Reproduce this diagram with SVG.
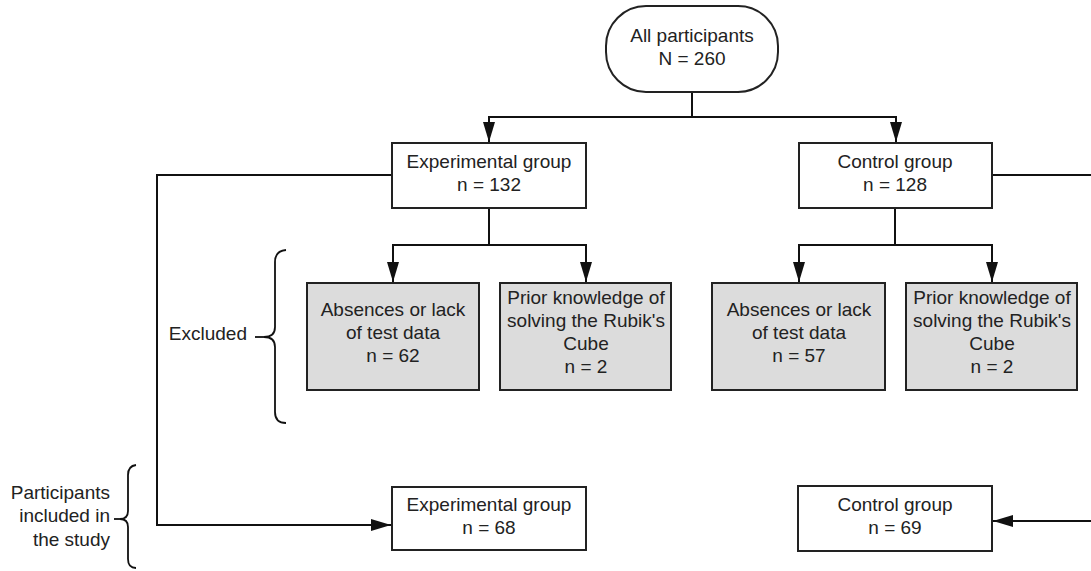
<svg xmlns="http://www.w3.org/2000/svg" width="1091" height="571" viewBox="0 0 1091 571">
  <style>
    .box { fill: #ffffff; stroke: #222222; stroke-width: 2; }
    .gray { fill: #dcdcdc; stroke: #222222; stroke-width: 2; }
    .t { font-family: "Liberation Sans", Arial, sans-serif; font-size: 19px; fill: #222222; }
    .c { text-anchor: middle; }
    .r { text-anchor: end; }
    .line { fill: none; stroke: #111111; stroke-width: 2; }
    .brace { fill: none; stroke: #111111; stroke-width: 1.8; }
  </style>
  <defs>
    <marker id="arrow" markerUnits="userSpaceOnUse" markerWidth="20" markerHeight="12" refX="20" refY="6" orient="auto">
      <path d="M0,0 L20,6 L0,12 z" fill="#111111"/>
    </marker>
  </defs>
  <rect width="1091" height="571" fill="#ffffff"/>

  <g id="connectors">
    <path class="line" d="M692,92 V117 H489 V142" marker-end="url(#arrow)"/>
    <path class="line" d="M692,117 H896 V142" marker-end="url(#arrow)"/>
    <path class="line" d="M489,208 V245 H393 V282" marker-end="url(#arrow)"/>
    <path class="line" d="M489,245 H586 V282" marker-end="url(#arrow)"/>
    <path class="line" d="M895,208 V245 H799 V282" marker-end="url(#arrow)"/>
    <path class="line" d="M895,245 H992 V282" marker-end="url(#arrow)"/>
    <path class="line" d="M392,175 H157 V525 H391" marker-end="url(#arrow)"/>
    <path class="line" d="M992,175 H1100 V521 H993" marker-end="url(#arrow)"/>
  </g>

  <g id="all">
    <rect class="box" x="606" y="6" width="172" height="86" rx="40" ry="40"/>
    <text class="t c" x="692" y="42">All participants</text>
    <text class="t c" x="692" y="65">N = 260</text>
  </g>

  <g id="exp">
    <rect class="box" x="392" y="143" width="194" height="65"/>
    <text class="t c" x="489" y="168">Experimental group</text>
    <text class="t c" x="489" y="191">n = 132</text>
  </g>

  <g id="ctrl">
    <rect class="box" x="799" y="143" width="193" height="65"/>
    <text class="t c" x="895" y="168">Control group</text>
    <text class="t c" x="895" y="191">n = 128</text>
  </g>

  <g id="exp-absent">
    <rect class="gray" x="307" y="283" width="172" height="107"/>
    <text class="t c" x="393" y="316">Absences or lack</text>
    <text class="t c" x="393" y="339">of test data</text>
    <text class="t c" x="393" y="362">n = 62</text>
  </g>

  <g id="exp-prior">
    <rect class="gray" x="500" y="283" width="171" height="107"/>
    <text class="t c" x="586" y="304">Prior knowledge of</text>
    <text class="t c" x="586" y="327">solving the Rubik's</text>
    <text class="t c" x="586" y="350">Cube</text>
    <text class="t c" x="586" y="373">n = 2</text>
  </g>

  <g id="ctrl-absent">
    <rect class="gray" x="712" y="283" width="173" height="107"/>
    <text class="t c" x="799" y="316">Absences or lack</text>
    <text class="t c" x="799" y="339">of test data</text>
    <text class="t c" x="799" y="362">n = 57</text>
  </g>

  <g id="ctrl-prior">
    <rect class="gray" x="906" y="283" width="171" height="107"/>
    <text class="t c" x="992" y="304">Prior knowledge of</text>
    <text class="t c" x="992" y="327">solving the Rubik's</text>
    <text class="t c" x="992" y="350">Cube</text>
    <text class="t c" x="992" y="373">n = 2</text>
  </g>

  <g id="exp-final">
    <rect class="box" x="392" y="487" width="194" height="63"/>
    <text class="t c" x="489" y="511">Experimental group</text>
    <text class="t c" x="489" y="534">n = 68</text>
  </g>

  <g id="ctrl-final">
    <rect class="box" x="798" y="486" width="194" height="65"/>
    <text class="t c" x="895" y="511">Control group</text>
    <text class="t c" x="895" y="534">n = 69</text>
  </g>

  <g id="excluded-label">
    <path class="brace" d="M286,250 Q275,251 275,262 V327 Q275,337 264,337 Q275,337 275,347 V412 Q275,423 286,423"/>
    <path class="brace" d="M255,337 H264"/>
    <text class="t r" x="247" y="340">Excluded</text>
  </g>

  <g id="included-label">
    <path class="brace" d="M136,465 Q128,466 128,475 V511 Q128,519 120,519 Q128,519 128,527 V559 Q128,568 136,568"/>
    <path class="brace" d="M114,519 H120"/>
    <text class="t r" x="110" y="499">Participants</text>
    <text class="t r" x="110" y="522">included in</text>
    <text class="t r" x="110" y="546">the study</text>
  </g>
</svg>
